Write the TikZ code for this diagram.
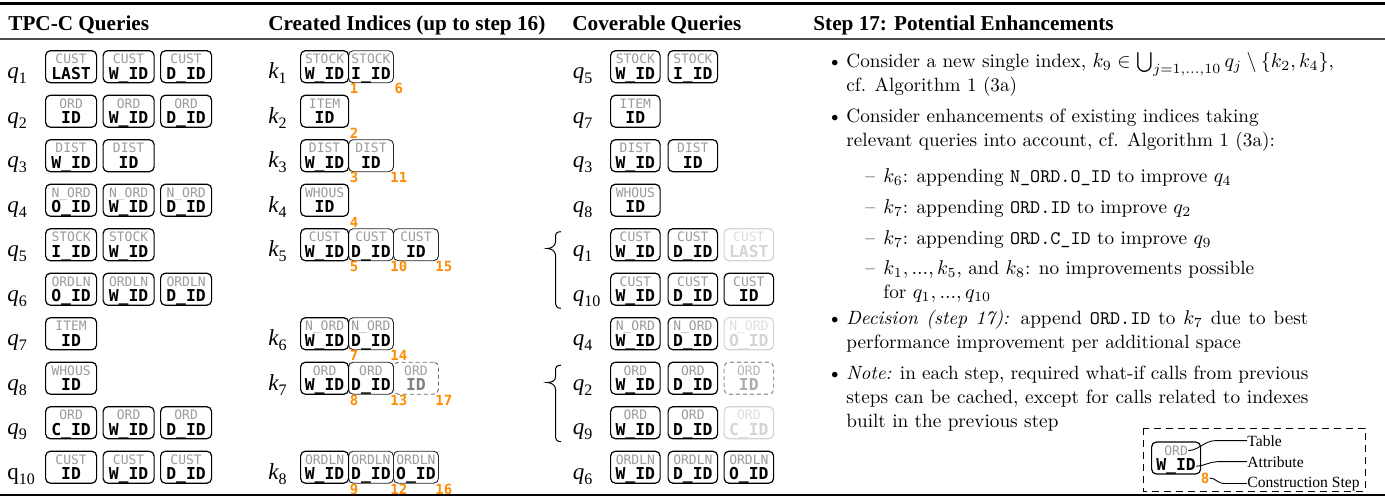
\documentclass[tikz,border=0pt]{standalone}
\usepackage{fontspec}
\newfontfamily\tms{Liberation Serif}
\newfontfamily\dmono{DejaVu Sans Mono}
\usetikzlibrary{calc}
\definecolor{stepor}{RGB}{255,140,0}
\definecolor{tabgray}{RGB}{155,155,155}
\newcommand\hdfont{\tms\bfseries\fontsize{10.6}{12}\selectfont}
\newcommand\lbl[2]{{\tms\fontsize{11.5}{12}\selectfont\itshape #1}{\tms\fontsize{8}{9}\selectfont\raisebox{-2.6pt}{#2}}}
\newcommand\lblu[2]{{\tms\fontsize{11.5}{12}\selectfont #1}{\tms\fontsize{8}{9}\selectfont\raisebox{-2.6pt}{#2}}}
\tikzset{
  ibox/.style={draw=black, line width=0.6pt, rounded corners=2.4pt, minimum height=16pt, inner sep=0pt, anchor=west},
  tabtxt/.style={font={\dmono\fontsize{6.5}{7}\selectfont}, inner sep=0pt, anchor=base},
  atttxt/.style={font={\dmono\bfseries\fontsize{8.2}{9}\selectfont}, inner sep=0pt, anchor=base},
  tabN/.style={text=tabgray}, attN/.style={text=black},
  tabF/.style={text=black!13}, attF/.style={text=black!17},
  tabG/.style={text=black!28}, attG/.style={text=black!33},
  tabH/.style={text=black!38}, attH/.style={text=black!50},
  faded/.style={draw=black!17},
  ghost/.style={draw=black!40, dash pattern=on 2pt off 1.5pt},
  ghostk/.style={draw=black!60, dash pattern=on 2pt off 1.5pt, line width=0.45pt},
  seg/.style={line width=0.45pt, draw=black!85},
  stepnum/.style={font={\dmono\bfseries\fontsize{7}{8}\selectfont}, text=stepor, inner sep=0pt},
  lab/.style={anchor=base west, inner sep=0pt},
  hd/.style={anchor=base west, inner sep=0pt, font=\hdfont},
  body/.style={anchor=base west, inner sep=0pt, font={\fontsize{9.6}{12}\selectfont}},
  itm/.style={body, align=justify},
  legtxt/.style={anchor=base west, inner sep=0pt, font={\tms\fontsize{7.8}{9}\selectfont}},
  legline/.style={line width=0.45pt},
  bracepath/.style={line width=0.5pt},
}
\newcommand\ibox[8]{%
  \node[ibox,minimum width=#5*0.5pt,#1] (#2) at (#3,#4) {};
  \node[tabtxt,tab#8] (#2t) at ([shift={(0,-2.75)}]#2.center) {#6};
  \node[atttxt,att#8] (#2a) at ([shift={(0,12.3)}]#2.center) {#7};}
\newcommand\stp[2]{\node[stepnum] (#1n) at ([shift={(5,5.5)}]#1.south east) {#2};}
\begin{document}
\begin{tikzpicture}[x=0.5pt,y=-0.5pt]
\useasboundingbox[fill=white] (0,0) rectangle (1385,500);
% rules
\draw[line width=1.3pt] (0,3.3) -- (1385,3.3);
\draw[line width=0.8pt, black!70] (0,39) -- (1385,39);
\draw[line width=1.3pt] (0,495) -- (1385,495);
% headers
\node[hd] (h1) at (8,30) {TPC-C Queries};
\node[hd] (h2) at (268,30) {Created Indices (up to step 16)};
\node[hd] (h3) at (572,30) {Coverable Queries};
\node[hd] (h4) at (813,30) {Step 17: Potential Enhancements};
% ---------------- left column
\node[lab] (lq1) at (7,78.7) {\lbl{q}{1}};
\ibox{}{L1a}{45}{66.7}{51}{CUST}{LAST}{N}
\ibox{}{L1b}{102.5}{66.7}{51}{CUST}{W\_ID}{N}
\ibox{}{L1c}{160}{66.7}{51}{CUST}{D\_ID}{N}
\node[lab] (lq2) at (7,123.2) {\lbl{q}{2}};
\ibox{}{L2a}{45}{111.2}{51}{ORD}{ID}{N}
\ibox{}{L2b}{102.5}{111.2}{51}{ORD}{W\_ID}{N}
\ibox{}{L2c}{160}{111.2}{51}{ORD}{D\_ID}{N}
\node[lab] (lq3) at (7,167.7) {\lbl{q}{3}};
\ibox{}{L3a}{45}{155.7}{51}{DIST}{W\_ID}{N}
\ibox{}{L3b}{102.5}{155.7}{51}{DIST}{ID}{N}
\node[lab] (lq4) at (7,212.2) {\lbl{q}{4}};
\ibox{}{L4a}{45}{200.2}{51}{N\_ORD}{O\_ID}{N}
\ibox{}{L4b}{102.5}{200.2}{51}{N\_ORD}{W\_ID}{N}
\ibox{}{L4c}{160}{200.2}{51}{N\_ORD}{D\_ID}{N}
\node[lab] (lq5) at (7,256.7) {\lbl{q}{5}};
\ibox{}{L5a}{45}{244.7}{51}{STOCK}{I\_ID}{N}
\ibox{}{L5b}{102.5}{244.7}{51}{STOCK}{W\_ID}{N}
\node[lab] (lq6) at (7,301.2) {\lbl{q}{6}};
\ibox{}{L6a}{45}{289.2}{51}{ORDLN}{O\_ID}{N}
\ibox{}{L6b}{102.5}{289.2}{51}{ORDLN}{W\_ID}{N}
\ibox{}{L6c}{160}{289.2}{51}{ORDLN}{D\_ID}{N}
\node[lab] (lq7) at (7,345.7) {\lbl{q}{7}};
\ibox{}{L7a}{45}{333.7}{51}{ITEM}{ID}{N}
\node[lab] (lq8) at (7,390.2) {\lbl{q}{8}};
\ibox{}{L8a}{45}{378.2}{51}{WHOUS}{ID}{N}
\node[lab] (lq9) at (7,434.7) {\lbl{q}{9}};
\ibox{}{L9a}{45}{422.7}{51}{ORD}{C\_ID}{N}
\ibox{}{L9b}{102.5}{422.7}{51}{ORD}{W\_ID}{N}
\ibox{}{L9c}{160}{422.7}{51}{ORD}{D\_ID}{N}
\node[lab] (lq10) at (7,479.2) {\lblu{q}{10}};
\ibox{}{L10a}{45}{467.2}{51}{CUST}{ID}{N}
\ibox{}{L10b}{102.5}{467.2}{51}{CUST}{W\_ID}{N}
\ibox{}{L10c}{160}{467.2}{51}{CUST}{D\_ID}{N}
% ---------------- created indices
\node[lab] (lk1) at (268,78.7) {\lbl{k}{1}};
\ibox{seg}{K1b}{348}{66.7}{45}{STOCK}{I\_ID}{N}
\ibox{}{K1a}{300}{66.7}{48}{STOCK}{W\_ID}{N}
\stp{K1a}{1}\stp{K1b}{6}
\node[lab] (lk2) at (268,123.2) {\lbl{k}{2}};
\ibox{}{K2a}{300}{111.2}{48}{ITEM}{ID}{N}
\stp{K2a}{2}
\node[lab] (lk3) at (268,167.7) {\lbl{k}{3}};
\ibox{seg}{K3b}{348}{155.7}{45}{DIST}{ID}{N}
\ibox{}{K3a}{300}{155.7}{48}{DIST}{W\_ID}{N}
\stp{K3a}{3}\stp{K3b}{11}
\node[lab] (lk4) at (268,212.2) {\lbl{k}{4}};
\ibox{}{K4a}{300}{200.2}{48}{WHOUS}{ID}{N}
\stp{K4a}{4}
\node[lab] (lk5) at (268,256.7) {\lbl{k}{5}};
\ibox{seg}{K5c}{393}{244.7}{45}{CUST}{ID}{N}
\ibox{seg}{K5b}{348}{244.7}{45}{CUST}{D\_ID}{N}
\ibox{}{K5a}{300}{244.7}{48}{CUST}{W\_ID}{N}
\stp{K5a}{5}\stp{K5b}{10}\stp{K5c}{15}
\node[lab] (lk6) at (268,345.7) {\lbl{k}{6}};
\ibox{seg}{K6b}{348}{333.7}{45}{N\_ORD}{D\_ID}{N}
\ibox{}{K6a}{300}{333.7}{48}{N\_ORD}{W\_ID}{N}
\stp{K6a}{7}\stp{K6b}{14}
\node[lab] (lk7) at (268,390.2) {\lbl{k}{7}};
\ibox{ghostk}{K7c}{393}{378.2}{45}{ORD}{ID}{H}
\ibox{seg}{K7b}{348}{378.2}{45}{ORD}{D\_ID}{N}
\ibox{}{K7a}{300}{378.2}{48}{ORD}{W\_ID}{N}
\stp{K7a}{8}\stp{K7b}{13}\stp{K7c}{17}
\node[lab] (lk8) at (268,479.2) {\lbl{k}{8}};
\ibox{seg}{K8c}{393}{467.2}{45}{ORDLN}{O\_ID}{N}
\ibox{seg}{K8b}{348}{467.2}{45}{ORDLN}{D\_ID}{N}
\ibox{}{K8a}{300}{467.2}{48}{ORDLN}{W\_ID}{N}
\stp{K8a}{9}\stp{K8b}{12}\stp{K8c}{16}
% ---------------- coverable queries
\node[lab] (cq5) at (572.5,78.7) {\lbl{q}{5}};
\ibox{}{C1a}{610}{66.7}{49.5}{STOCK}{W\_ID}{N}
\ibox{}{C1b}{667.5}{66.7}{49.5}{STOCK}{I\_ID}{N}
\node[lab] (cq7) at (572.5,123.2) {\lbl{q}{7}};
\ibox{}{C2a}{610}{111.2}{49.5}{ITEM}{ID}{N}
\node[lab] (cq3) at (572.5,167.7) {\lbl{q}{3}};
\ibox{}{C3a}{610}{155.7}{49.5}{DIST}{W\_ID}{N}
\ibox{}{C3b}{667.5}{155.7}{49.5}{DIST}{ID}{N}
\node[lab] (cq8) at (572.5,212.2) {\lbl{q}{8}};
\ibox{}{C4a}{610}{200.2}{49.5}{WHOUS}{ID}{N}
\node[lab] (cq1) at (572.5,256.7) {\lbl{q}{1}};
\ibox{}{C5a}{610}{244.7}{49.5}{CUST}{W\_ID}{N}
\ibox{}{C5b}{667.5}{244.7}{49.5}{CUST}{D\_ID}{N}
\ibox{faded}{C5c}{723.5}{244.7}{49.5}{CUST}{LAST}{F}
\node[lab] (cq10) at (572.5,301.2) {\lbl{q}{10}};
\ibox{}{C6a}{610}{289.2}{49.5}{CUST}{W\_ID}{N}
\ibox{}{C6b}{667.5}{289.2}{49.5}{CUST}{D\_ID}{N}
\ibox{}{C6c}{723.5}{289.2}{49.5}{CUST}{ID}{N}
\node[lab] (cq4) at (572.5,345.7) {\lbl{q}{4}};
\ibox{}{C7a}{610}{333.7}{49.5}{N\_ORD}{W\_ID}{N}
\ibox{}{C7b}{667.5}{333.7}{49.5}{N\_ORD}{D\_ID}{N}
\ibox{faded}{C7c}{723.5}{333.7}{49.5}{N\_ORD}{O\_ID}{F}
\node[lab] (cq2) at (572.5,390.2) {\lbl{q}{2}};
\ibox{}{C8a}{610}{378.2}{49.5}{ORD}{W\_ID}{N}
\ibox{}{C8b}{667.5}{378.2}{49.5}{ORD}{D\_ID}{N}
\ibox{ghost}{C8c}{723.5}{378.2}{49.5}{ORD}{ID}{G}
\node[lab] (cq9) at (572.5,434.7) {\lbl{q}{9}};
\ibox{}{C9a}{610}{422.7}{49.5}{ORD}{W\_ID}{N}
\ibox{}{C9b}{667.5}{422.7}{49.5}{ORD}{D\_ID}{N}
\ibox{faded}{C9c}{723.5}{422.7}{49.5}{ORD}{C\_ID}{F}
\node[lab] (cq6) at (572.5,479.2) {\lbl{q}{6}};
\ibox{}{C10a}{610}{467.2}{49.5}{ORDLN}{W\_ID}{N}
\ibox{}{C10b}{667.5}{467.2}{49.5}{ORDLN}{D\_ID}{N}
\ibox{}{C10c}{723.5}{467.2}{49.5}{ORDLN}{O\_ID}{N}
% braces
\draw[bracepath] (561,231.7) .. controls (557,231.7) and (555.5,233) .. (555.5,237) -- (555.5,242)
  .. controls (555.5,246) and (551,248.5) .. (547,248.5) .. controls (551,248.5) and (555.5,251) .. (555.5,255)
  -- (555.5,302) .. controls (555.5,306) and (557,308.3) .. (561,308.3);
\draw[bracepath] (561,365.2) .. controls (557,365.2) and (555.5,366.5) .. (555.5,370.5) -- (555.5,377)
  .. controls (555.5,381) and (551,382.5) .. (547,382.5) .. controls (551,382.5) and (555.5,385) .. (555.5,389)
  -- (555.5,435.7) .. controls (555.5,439.7) and (557,441.7) .. (561,441.7);
% ---------------- right column
\node[body] (bu1) at (827,67) {\textbullet};
\node[itm, text width=231pt] (it1) at (846,67) {\mbox{Consider a new single index, $k_9\in\bigcup_{j=1,\ldots,10} q_j\setminus\{k_2,k_4\}$,}\newline cf. Algorithm 1 (3a)};
\node[body] (bu2) at (827,122) {\textbullet};
\node[itm, text width=231pt] (it2) at (846,122) {Consider enhancements of existing indices taking\newline relevant queries into account, cf. Algorithm 1 (3a):};
\node[body] (da1) at (865,182) {\textendash};
\node[itm, text width=212pt] (s1) at (883,182) {$k_6$: appending \texttt{N\_ORD.O\_ID} to improve $q_4$};
\node[body] (da2) at (865,213) {\textendash};
\node[itm, text width=212pt] (s2) at (883,213) {$k_7$: appending \texttt{ORD.ID} to improve $q_2$};
\node[body] (da3) at (865,244) {\textendash};
\node[itm, text width=212pt] (s3) at (883,244) {$k_7$: appending \texttt{ORD.C\_ID} to improve $q_9$};
\node[body] (da4) at (865,274) {\textendash};
\node[itm, text width=212pt] (s4) at (883,274) {$k_1, ..., k_5$, and $k_8$: no improvements possible\newline for $q_1, ..., q_{10}$};
\node[body] (bu3) at (827,324) {\textbullet};
\node[itm, text width=231pt] (it3) at (846,324) {\textit{Decision (step 17):} append \texttt{ORD.ID} to $k_7$ due to best\linebreak performance improvement per additional space};
\node[body] (bu4) at (827,379) {\textbullet};
\node[itm, text width=231pt] (it4) at (846,379) {\textit{Note:} in each step, required what-if calls from previous\linebreak steps can be cached, except for calls related to indexes\linebreak built in the previous step};
% ---------------- legend
\draw[line width=0.5pt, dash pattern=on 3.5pt off 2.5pt] (1143,428) rectangle (1365,491);
\ibox{}{LG}{1151}{458}{49}{ORD}{W\_ID}{N}
\node[stepnum] (LG8) at (1205,478) {8};
\node[legtxt] (lTable) at (1247,446) {Table};
\node[legtxt] (lAttr) at (1247,467) {Attribute};
\node[legtxt] (lCons) at (1247,487) {Construction Step};
\draw[legline] (LGt.east) .. controls +(10,0) and +(-10,0) .. ($(lTable.west)+(-32,0)$) -- (lTable.west);
\draw[legline] (LGa.east) .. controls +(7,0) and +(-7,0) .. ($(lAttr.west)+(-30,0)$) -- (lAttr.west);
\draw[legline] (LG8.east) .. controls +(6,0) and +(-8,0) .. ($(lCons.west)+(-22,0)$) -- (lCons.west);
\end{tikzpicture}
\end{document}
